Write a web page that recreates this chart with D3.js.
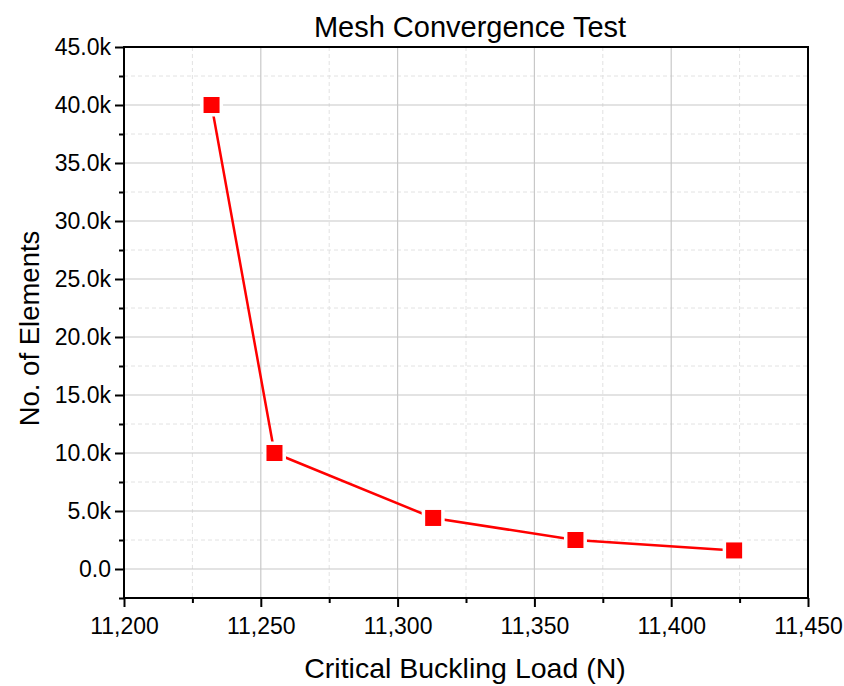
<!DOCTYPE html>
<html>
<head>
<meta charset="utf-8">
<script src="https://cdn.jsdelivr.net/npm/d3@7"></script>
<style>
  html, body { margin: 0; padding: 0; background: #fff; }
  svg { display: block; font-family: "Liberation Sans", Arial, sans-serif; }
</style>
</head>
<body>
<svg id="chart" width="844" height="686"></svg>
<script>
// Critical buckling load (N) against mesh size (number of elements)
const bucklingLoad = [11232, 11255, 11313, 11365, 11423];
const elementCount = [40000, 10000, 4400, 2500, 1600];
const xTickValues = [11200, 11250, 11300, 11350, 11400, 11450];
const yTickValues = [0, 5000, 10000, 15000, 20000, 25000, 30000, 35000, 40000, 45000];

const svg = d3.select("#chart");
const margin = { left: 124, right: 36, top: 47, bottom: 88 };
const W = 844, H = 686;
const pw = W - margin.left - margin.right;
const ph = H - margin.top - margin.bottom;

const x = d3.scaleLinear().domain([11200, 11450]).range([margin.left, margin.left + pw]);
const y = d3.scaleLinear().domain([-2500, 45000]).range([margin.top + ph, margin.top]);

const xMinor = d3.range(11225, 11450, 50);
const yMinor = d3.range(2500, 45000, 5000).concat([-2500]);

const g = svg.append("g");

// minor grid (dashed)
g.selectAll(".xminor").data(xMinor).join("line")
  .attr("x1", d => x(d)).attr("x2", d => x(d))
  .attr("y1", margin.top).attr("y2", margin.top + ph)
  .attr("stroke", "#e2e2e2").attr("stroke-width", 1).attr("stroke-dasharray", "4,3");
g.selectAll(".yminor").data(yMinor.filter(d => d > -2500)).join("line")
  .attr("x1", margin.left).attr("x2", margin.left + pw)
  .attr("y1", d => y(d)).attr("y2", d => y(d))
  .attr("stroke", "#e2e2e2").attr("stroke-width", 1).attr("stroke-dasharray", "4,3");

// major grid
g.selectAll(".xmajor").data(xTickValues.slice(1, -1)).join("line")
  .attr("x1", d => x(d)).attr("x2", d => x(d))
  .attr("y1", margin.top).attr("y2", margin.top + ph)
  .attr("stroke", "#c8c8c8").attr("stroke-width", 1.2);
g.selectAll(".ymajor").data(yTickValues.slice(0, -1)).join("line")
  .attr("x1", margin.left).attr("x2", margin.left + pw)
  .attr("y1", d => y(d)).attr("y2", d => y(d))
  .attr("stroke", "#c8c8c8").attr("stroke-width", 1.2);

// frame
svg.append("rect")
  .attr("x", margin.left).attr("y", margin.top).attr("width", pw).attr("height", ph)
  .attr("fill", "none").attr("stroke", "#000").attr("stroke-width", 2);

// axes
const fmtX = d3.format(",");
const fmtY = d => d === 0 ? "0.0" : (d / 1000).toFixed(1) + "k";

const xAxis = svg.append("g").attr("transform", `translate(0,${margin.top + ph})`)
  .call(d3.axisBottom(x).tickValues(xTickValues).tickFormat(fmtX).tickSize(9).tickPadding(11));
const xAxisMinor = svg.append("g").attr("transform", `translate(0,${margin.top + ph})`)
  .call(d3.axisBottom(x).tickValues(xMinor).tickFormat("").tickSize(5));
const yAxis = svg.append("g").attr("transform", `translate(${margin.left},0)`)
  .call(d3.axisLeft(y).tickValues(yTickValues).tickFormat(fmtY).tickSize(9).tickPadding(4));
const yAxisMinor = svg.append("g").attr("transform", `translate(${margin.left},0)`)
  .call(d3.axisLeft(y).tickValues(yMinor).tickFormat("").tickSize(5));

[xAxis, xAxisMinor, yAxis, yAxisMinor].forEach(a => {
  a.select(".domain").remove();
  a.selectAll(".tick line").attr("stroke", "#000").attr("stroke-width", 2);
  a.selectAll(".tick text").attr("fill", "#000")
    .style("font-family", "'Liberation Sans', Arial, sans-serif").style("font-size", "23px");
});

// series line
const line = d3.line().x((d, i) => x(bucklingLoad[i])).y(d => y(d));
svg.append("path").datum(elementCount)
  .attr("d", line).attr("fill", "none").attr("stroke", "#ff0000").attr("stroke-width", 2.5);

// markers
const ms = 16;
svg.selectAll(".marker").data(elementCount).join("rect")
  .attr("x", (d, i) => x(bucklingLoad[i]) - ms / 2)
  .attr("y", d => y(d) - ms / 2)
  .attr("width", ms).attr("height", ms)
  .attr("fill", "#ff0000").attr("stroke", "#fff").attr("stroke-width", 7)
  .attr("paint-order", "stroke");

// title and axis labels
svg.append("text").attr("x", margin.left + pw / 2 + 4).attr("y", 37)
  .attr("text-anchor", "middle").style("font-size", "29px").text("Mesh Convergence Test");
svg.append("text").attr("x", margin.left + pw / 2 - 1).attr("y", 678)
  .attr("text-anchor", "middle").style("font-size", "28.5px").text("Critical Buckling Load (N)");
svg.append("text").attr("transform", `translate(39,${margin.top + ph / 2 + 6}) rotate(-90)`)
  .attr("text-anchor", "middle").style("font-size", "27.5px").text("No. of Elements");
</script>
</body>
</html>
